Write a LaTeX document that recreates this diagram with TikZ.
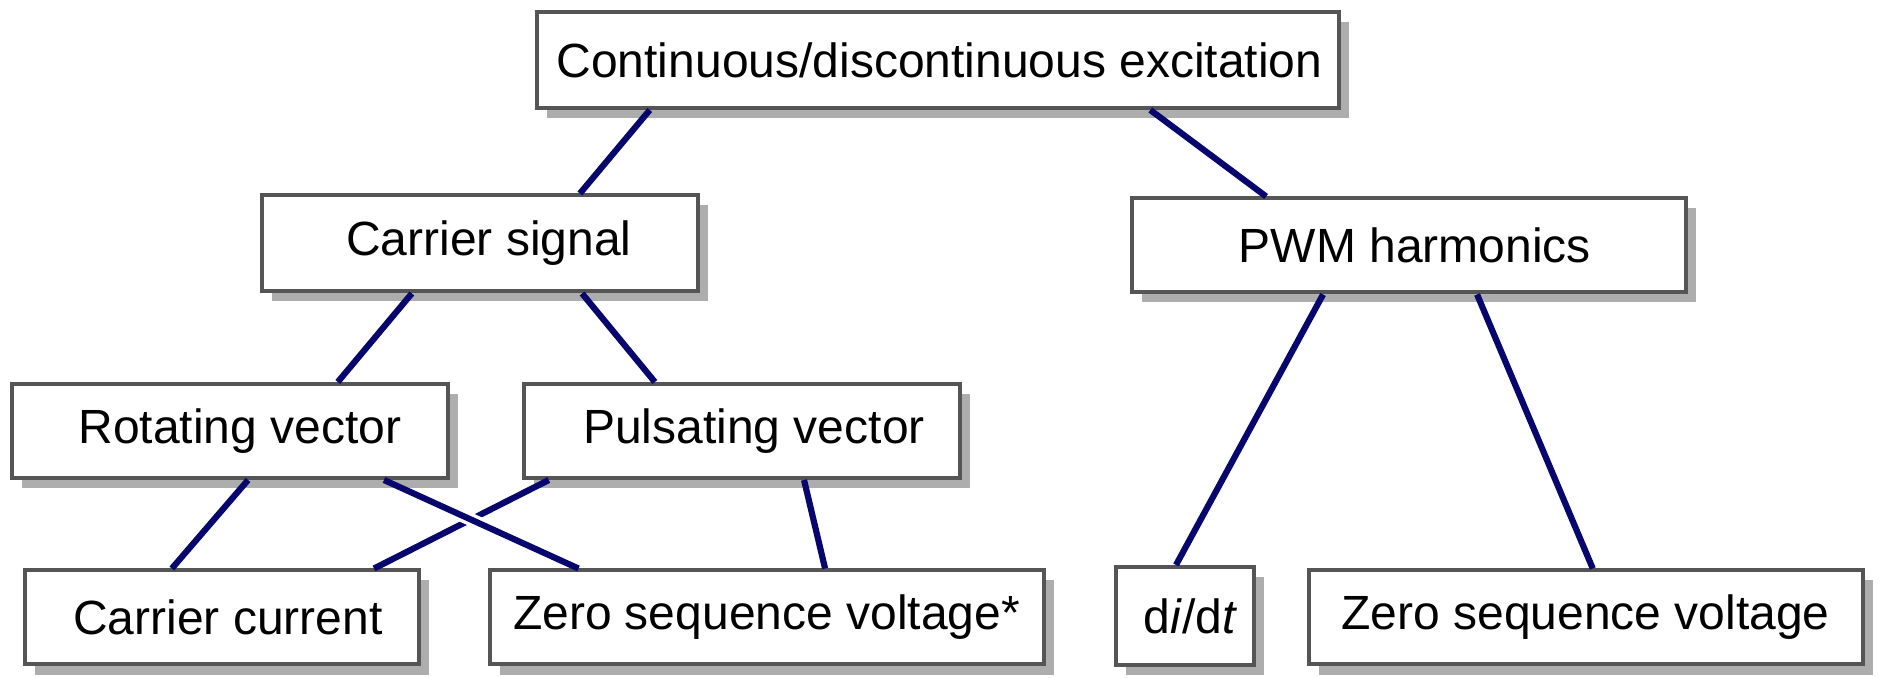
\documentclass[tikz,border=0pt]{standalone}
\usepackage{fontspec}
\setmainfont{Liberation Sans}
\usetikzlibrary{calc,shadows}
\definecolor{navy}{HTML}{06066C}
\definecolor{frame}{HTML}{555555}
\tikzset{
    box/.style =    {rectangle,
                    fill=white,
                    draw=frame,
                    text=black,
                    line width=2pt,
                    inner sep=0pt,
                    font=\fontsize{24}{28}\selectfont,
                    drop shadow={shadow xshift=5pt,
                                 shadow yshift=-5pt,
                                 fill=black!32,
                                 opacity=1}},
    indent/.style = {execute at begin node={\hspace*{#1}}},
    link/.style =   {draw=navy,
                    line width=3.1pt},
    -}

\begin{document}
\begin{tikzpicture}[x=0.5pt,y=-0.5pt]
                \useasboundingbox (0,0) rectangle (1881,678);
                % nodes
                \node[box, indent=2pt,  minimum width=401pt, minimum height=48pt] (exc)  at (937.5,60)  {Continuous/discontinuous excitation};
                \node[box, indent=9pt,  minimum width=218pt, minimum height=48pt] (car)  at (480,243.5) {Carrier signal};
                \node[box, indent=6pt,  minimum width=277pt, minimum height=47pt] (pwm)  at (1409,245.5) {PWM harmonics};
                \node[box, indent=10pt, minimum width=218pt, minimum height=47pt] (rot)  at (230,431)   {Rotating vector};
                \node[box, indent=12pt, minimum width=218pt, minimum height=47pt] (pul)  at (742,431)   {Pulsating vector};
                \node[box, indent=6pt,  minimum width=197pt, minimum height=47pt] (cur)  at (222,617.5) {Carrier current};
                \node[box,              minimum width=277pt, minimum height=47pt] (zsa)  at (766.5,617.5) {Zero sequence voltage*};
                \node[box, indent=6pt,  minimum width=69pt,  minimum height=49pt] (didt) at (1184.5,616) {d\textit{i}/d\textit{t}};
                \node[box,              minimum width=277pt, minimum height=47pt] (zsb)  at (1585.5,617.5) {Zero sequence voltage};
                % links
                \path [link]    ($(exc.south west)!.143!(exc.south east)$) -- ($(car.north west)!.727!(car.north east)$)
                                ($(exc.south west)!.764!(exc.south east)$) -- ($(pwm.north west)!.244!(pwm.north east)$)
                                ($(car.south west)!.345!(car.south east)$) -- ($(rot.north west)!.745!(rot.north east)$)
                                ($(car.south west)!.732!(car.south east)$) -- ($(pul.north west)!.302!(pul.north east)$)
                                ($(rot.south west)!.541!(rot.south east)$) -- ($(cur.north west)!.374!(cur.north east)$)
                                ($(pul.south west)!.061!(pul.south east)$) -- ($(cur.north west)!.882!(cur.north east)$)
                                ($(pul.south west)!.641!(pul.south east)$) -- ($(zsa.north west)!.605!(zsa.north east)$)
                                ($(pwm.south west)!.346!(pwm.south east)$) -- ($(didt.north west)!.44!(didt.north east)$)
                                ($(pwm.south west)!.622!(pwm.south east)$) -- ($(zsb.north west)!.513!(zsb.north east)$);
                \path [link, preaction={draw=white, line width=6.5pt, shorten <=20pt, shorten >=20pt}]
                                ($(rot.south west)!.85!(rot.south east)$) -- ($(zsa.north west)!.163!(zsa.north east)$);
        \end{tikzpicture}
\end{document}
